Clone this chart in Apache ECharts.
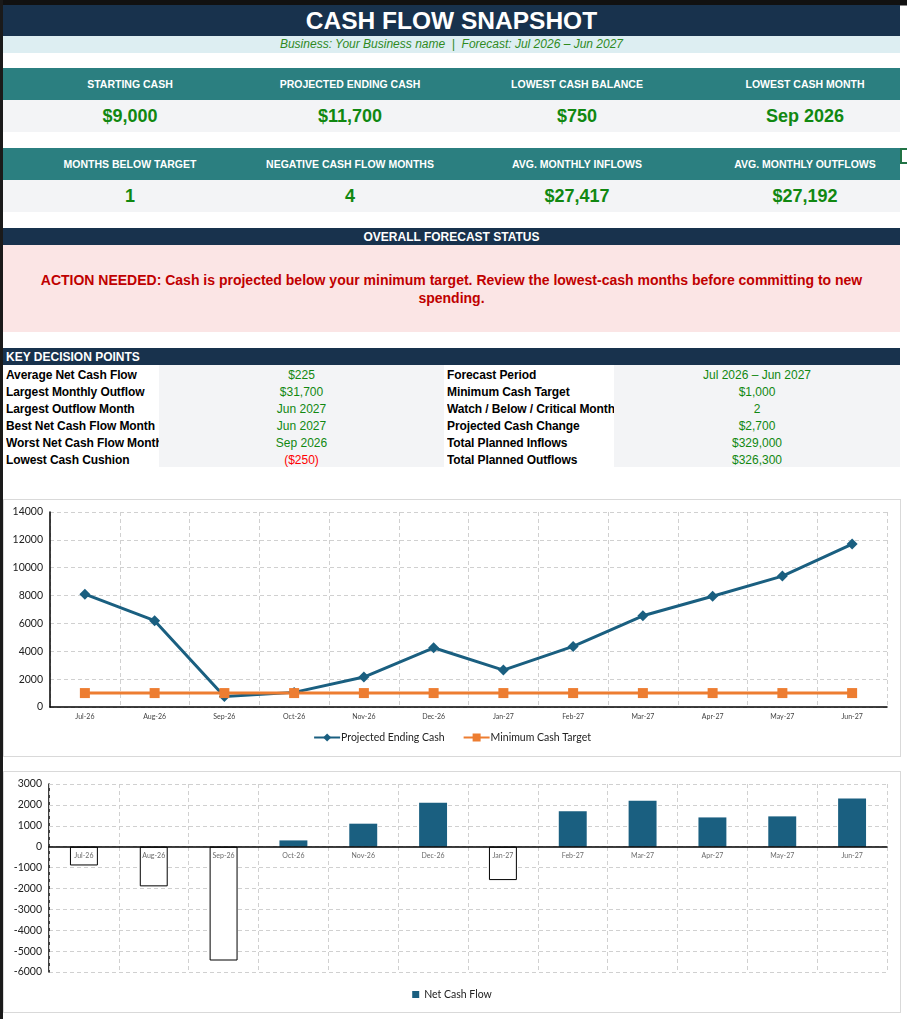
<!DOCTYPE html>
<html>
<head>
<meta charset="utf-8">
<script src="https://cdn.jsdelivr.net/npm/echarts@6/dist/echarts.min.js"></script>
<style>
  html, body { margin: 0; padding: 0; background: #fff; }
  body { width: 907px; height: 1019px; position: relative; overflow: hidden;
         font-family: "Liberation Sans", Arial, sans-serif; }
  .abs { position: absolute; }
  .navy { background: #18324d; color: #fff; font-weight: bold; }
  .teal { background: #2b7f80; color: #fff; font-weight: bold; }
  .grey { background: #f3f4f6; }
  .c { position: absolute; transform: translateX(-50%); white-space: nowrap; }
  .green { color: #118811; }
  .kpiLabel { font-size: 10.5px; top: 10px; }
  .kpiVal { font-size: 18px; font-weight: bold; top: 6px; }
  .row { position: absolute; height: 17px; line-height: 17px; padding-top: 2px; box-sizing: border-box; font-size: 12px; }
  .lbl { font-weight: bold; color: #000; overflow: hidden; white-space: nowrap; letter-spacing: -0.1px; }
  .val { text-align: center; color: #118811; }
  .chartBox { position: absolute; left: 3px; width: 896px; border: 1px solid #d9d9d9; background: #fff; }
</style>
</head>
<body>
<div class="abs" style="left:0;top:0;width:907px;height:5px;background:#111;border-bottom:1px solid #888;"></div>
<div class="abs" style="left:0;top:0;width:3px;height:1019px;background:#1a1a1a;"></div>
<div class="abs" style="left:900px;top:148px;width:7px;height:16px;border:2px solid #217346;border-right:none;box-sizing:border-box;"></div>

<div class="abs navy" style="left:3px;top:5px;width:897px;height:31px;line-height:31px;text-align:center;font-size:24.5px;">CASH FLOW SNAPSHOT</div>
<div class="abs" style="left:3px;top:36px;width:897px;height:17px;line-height:17px;background:#ddeef2;text-align:center;font-size:12px;font-style:italic;color:#2f8a1e;">Business: Your Business name&nbsp; | &nbsp;Forecast: Jul 2026 – Jun 2027</div>

<div id="kpi1h" class="abs teal" style="left:3px;top:68px;width:897px;height:32px;"></div>
<div id="kpi1v" class="abs grey" style="left:3px;top:100px;width:897px;height:32px;"></div>
<div id="kpi2h" class="abs teal" style="left:3px;top:148px;width:897px;height:32px;"></div>
<div id="kpi2v" class="abs grey" style="left:3px;top:180px;width:897px;height:32px;"></div>

<div class="abs navy" style="left:3px;top:228px;width:897px;height:17px;line-height:18px;text-align:center;font-size:12px;">OVERALL FORECAST STATUS</div>
<div class="abs" style="left:3px;top:245px;width:897px;height:87px;background:#fbe5e5;"></div>
<div class="abs" style="left:13px;top:271px;width:877px;text-align:center;font-size:14px;line-height:18px;font-weight:bold;color:#c00000;">ACTION NEEDED: Cash is projected below your minimum target. Review the lowest-cash months before committing to new spending.</div>

<div class="abs navy" style="left:3px;top:348px;width:897px;height:17px;line-height:18px;font-size:12px;"><span style="padding-left:3px;">KEY DECISION POINTS</span></div>
<div class="abs grey" style="left:159px;top:365px;width:285px;height:102px;"></div>
<div class="abs grey" style="left:614px;top:365px;width:286px;height:102px;"></div>
<div id="kdp"></div>

<div class="chartBox" style="top:499px;height:256px;"><div id="lineChart" style="width:896px;height:256px;"></div></div>
<div class="chartBox" style="top:771px;height:240px;"><div id="barChart" style="width:896px;height:240px;"></div></div>

<script>
// --- data ---
var months = ['Jul-26', 'Aug-26', 'Sep-26', 'Oct-26', 'Nov-26', 'Dec-26', 'Jan-27', 'Feb-27', 'Mar-27', 'Apr-27', 'May-27', 'Jun-27'];
var endingCash = [8100, 6200, 750, 1050, 2150, 4250, 2650, 4350, 6550, 7950, 9400, 11700];
var minCashTarget = [1000, 1000, 1000, 1000, 1000, 1000, 1000, 1000, 1000, 1000, 1000, 1000];
var netCashFlow = [-900, -1900, -5450, 300, 1100, 2100, -1600, 1700, 2200, 1400, 1450, 2300];

var kpiLabels1 = ['STARTING CASH', 'PROJECTED ENDING CASH', 'LOWEST CASH BALANCE', 'LOWEST CASH MONTH'];
var kpiValues1 = ['$9,000', '$11,700', '$750', 'Sep 2026'];
var kpiLabels2 = ['MONTHS BELOW TARGET', 'NEGATIVE CASH FLOW MONTHS', 'AVG. MONTHLY INFLOWS', 'AVG. MONTHLY OUTFLOWS'];
var kpiValues2 = ['1', '4', '$27,417', '$27,192'];

var kdpLeftLabels = ['Average Net Cash Flow', 'Largest Monthly Outflow', 'Largest Outflow Month', 'Best Net Cash Flow Month', 'Worst Net Cash Flow Month', 'Lowest Cash Cushion'];
var kdpLeftValues = ['$225', '$31,700', 'Jun 2027', 'Jun 2027', 'Sep 2026', '($250)'];
var kdpRightLabels = ['Forecast Period', 'Minimum Cash Target', 'Watch / Below / Critical Month', 'Projected Cash Change', 'Total Planned Inflows', 'Total Planned Outflows'];
var kdpRightValues = ['Jul 2026 – Jun 2027', '$1,000', '2', '$2,700', '$329,000', '$326,300'];

var kpiCenters = [127, 347, 574, 802];

function fillKpi(id, items, cls, extra) {
  var el = document.getElementById(id);
  items.forEach(function (t, i) {
    var s = document.createElement('span');
    s.className = 'c ' + cls + (extra ? ' ' + extra : '');
    s.style.left = kpiCenters[i] + 'px';
    s.textContent = t;
    el.appendChild(s);
  });
}
fillKpi('kpi1h', kpiLabels1, 'kpiLabel');
fillKpi('kpi1v', kpiValues1, 'kpiVal', 'green');
fillKpi('kpi2h', kpiLabels2, 'kpiLabel');
fillKpi('kpi2v', kpiValues2, 'kpiVal', 'green');

var kdp = document.getElementById('kdp');
function addCell(text, left, width, y, cls, color) {
  var d = document.createElement('div');
  d.className = 'row ' + cls;
  d.style.left = left + 'px';
  d.style.width = width + 'px';
  d.style.top = y + 'px';
  if (color) d.style.color = color;
  d.textContent = text;
  kdp.appendChild(d);
}
for (var i = 0; i < kdpLeftLabels.length; i++) {
  var rowY = 365 + i * 17;
  addCell(kdpLeftLabels[i], 6, 153, rowY, 'lbl');
  addCell(kdpLeftValues[i], 159, 285, rowY, 'val', kdpLeftValues[i].charAt(0) == '(' ? '#ff0000' : null);
  addCell(kdpRightLabels[i], 447, 167, rowY, 'lbl');
  addCell(kdpRightValues[i], 614, 286, rowY, 'val');
}

var dash = { color: '#d0d0d0', type: [4, 3], width: 1 };
var chartFont = 'Lato, "Open Sans", sans-serif';
var plainNum = function (v) { return String(v); };

var lineChart = echarts.init(document.getElementById('lineChart'));
lineChart.setOption({
  animation: false,
  textStyle: { fontFamily: chartFont },
  grid: { left: 46, right: 13, top: 12, bottom: 49 },
  legend: {
    bottom: 8, left: 'center', itemWidth: 26, itemHeight: 10, itemGap: 18,
    textStyle: { fontSize: 10.5, color: '#222', fontFamily: chartFont, padding: [0, 0, 0, -4] },
    data: ['Projected Ending Cash', 'Minimum Cash Target']
  },
  xAxis: {
    type: 'category', data: months, boundaryGap: true,
    axisLine: { lineStyle: { color: '#000', width: 1.5 } },
    axisTick: { show: false },
    axisLabel: { fontSize: 7, color: '#444', margin: 6, interval: 0 },
    splitLine: { show: true, interval: 0, lineStyle: dash }
  },
  yAxis: {
    type: 'value', min: 0, max: 14000, interval: 2000,
    axisLine: { show: true, lineStyle: { color: '#000', width: 1.5 } },
    axisTick: { show: false },
    axisLabel: { fontSize: 10.5, color: '#222', margin: 7, formatter: plainNum },
    splitLine: { show: true, lineStyle: dash }
  },
  series: [{
    name: 'Projected Ending Cash', type: 'line', data: endingCash,
    symbol: 'diamond', symbolSize: 11,
    lineStyle: { color: '#1a5f80', width: 3 },
    itemStyle: { color: '#1a5f80' }
  }, {
    name: 'Minimum Cash Target', type: 'line', data: minCashTarget,
    symbol: 'rect', symbolSize: 10,
    lineStyle: { color: '#ed7d31', width: 3 },
    itemStyle: { color: '#ed7d31' }
  }]
});

var barChart = echarts.init(document.getElementById('barChart'));
barChart.setOption({
  animation: false,
  textStyle: { fontFamily: chartFont },
  grid: { left: 45, right: 13, top: 12, bottom: 40 },
  legend: {
    bottom: 7, left: 'center', itemWidth: 7, itemHeight: 7,
    icon: 'rect',
    textStyle: { fontSize: 10.5, color: '#222', fontFamily: chartFont },
    data: ['Net Cash Flow']
  },
  xAxis: {
    type: 'category', data: months, boundaryGap: true,
    axisLine: { onZero: true, lineStyle: { color: '#000', width: 1.5 } },
    axisTick: { show: false },
    axisLabel: { show: false },
    splitLine: { show: true, interval: 0, lineStyle: dash },
    z: 5
  },
  yAxis: {
    type: 'value', min: -6000, max: 3000, interval: 1000,
    axisLine: { show: true, lineStyle: { color: '#000', width: 1.5 } },
    axisTick: { show: false },
    axisLabel: { fontSize: 10.5, color: '#222', margin: 7, formatter: plainNum },
    splitLine: { show: true, lineStyle: dash }
  },
  series: [{
    name: 'Net Cash Flow', type: 'bar', barWidth: '40%',
    itemStyle: { color: '#1a5f80' },
    data: netCashFlow.map(function (v) {
      return v < 0
        ? { value: v, itemStyle: { color: '#ffffff', borderColor: '#000', borderWidth: 1 } }
        : v;
    })
  }, {
    // category labels sitting on the zero line, as in the spreadsheet chart
    name: 'labels', type: 'scatter', symbolSize: 0, silent: true,
    data: months.map(function (m) { return [m, 0]; }),
    label: {
      show: true, position: 'bottom', distance: 6,
      formatter: function (p) { return p.data[0]; },
      fontSize: 7, color: '#444', fontFamily: chartFont
    },
    z: 6
  }]
});
</script>
</body>
</html>
